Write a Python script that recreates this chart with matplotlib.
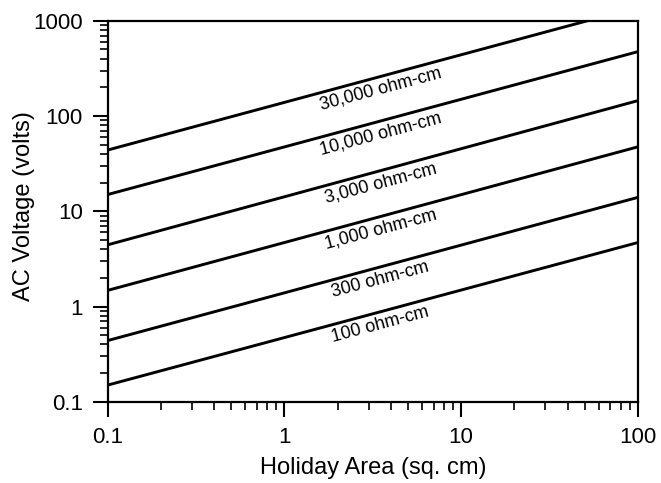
import matplotlib
matplotlib.use('Agg')
import matplotlib.pyplot as plt
import numpy as np
from matplotlib.ticker import LogLocator, FixedFormatter, FixedLocator, NullFormatter

plt.rcParams['font.family'] = ['Liberation Sans', 'DejaVu Sans']

# holiday area endpoints (sq. cm) and voltage read at each end, per resistivity
area = [0.1, 100]
v_100 = [0.15, 4.7]
v_300 = [0.44, 14.0]
v_1000 = [1.48, 47.5]
v_3000 = [4.45, 145]
v_10000 = [15.0, 474]
v_30000 = [44.0, 1390]
labels = ['100 ohm-cm', '300 ohm-cm', '1,000 ohm-cm', '3,000 ohm-cm',
          '10,000 ohm-cm', '30,000 ohm-cm']
series = [v_100, v_300, v_1000, v_3000, v_10000, v_30000]

xticks = [0.1, 1, 10, 100]
xticklabels = ['0.1', '1', '10', '100']
yticks = [0.1, 1, 10, 100, 1000]
yticklabels = ['0.1', '1', '10', '100', '1000']

fig = plt.figure(figsize=(6.61, 4.83), dpi=100)
ax = fig.add_axes([0.163, 0.168, 0.802, 0.789])

label_x = 3.5
for v, lab in zip(series, labels):
    ax.plot(area, v, color='black', lw=2.1, solid_capstyle='butt')
    # point on the line at label_x (straight in log-log)
    lx = np.log10(area)
    ly = np.log10(v)
    y_at = 10 ** np.interp(np.log10(label_x), lx, ly)
    ax.text(label_x, y_at / 1.36, lab, rotation=15, fontsize=13,
            ha='center', va='center', rotation_mode='anchor')

ax.set_xscale('log')
ax.set_yscale('log')
ax.set_xlim(0.1, 100)
ax.set_ylim(0.1, 1000)

ax.xaxis.set_major_locator(FixedLocator(xticks))
ax.xaxis.set_major_formatter(FixedFormatter(xticklabels))
ax.yaxis.set_major_locator(FixedLocator(yticks))
ax.yaxis.set_major_formatter(FixedFormatter(yticklabels))
ax.xaxis.set_minor_locator(LogLocator(base=10, subs=np.arange(2, 10)))
ax.yaxis.set_minor_locator(LogLocator(base=10, subs=np.arange(2, 10)))
ax.xaxis.set_minor_formatter(NullFormatter())
ax.yaxis.set_minor_formatter(NullFormatter())

ax.tick_params(which='major', direction='out', length=11, width=1.5,
               labelsize=16, pad=7)
ax.tick_params(which='minor', direction='out', length=6, width=1.2)
for s in ax.spines.values():
    s.set_linewidth(1.6)

ax.set_xlabel('Holiday Area (sq. cm)', fontsize=17)
ax.set_ylabel('AC Voltage (volts)', fontsize=17)
ax.xaxis.set_label_coords(0.5, -0.145)
ax.yaxis.set_label_coords(-0.137, 0.514)

fig.savefig('out.png', dpi=100)
